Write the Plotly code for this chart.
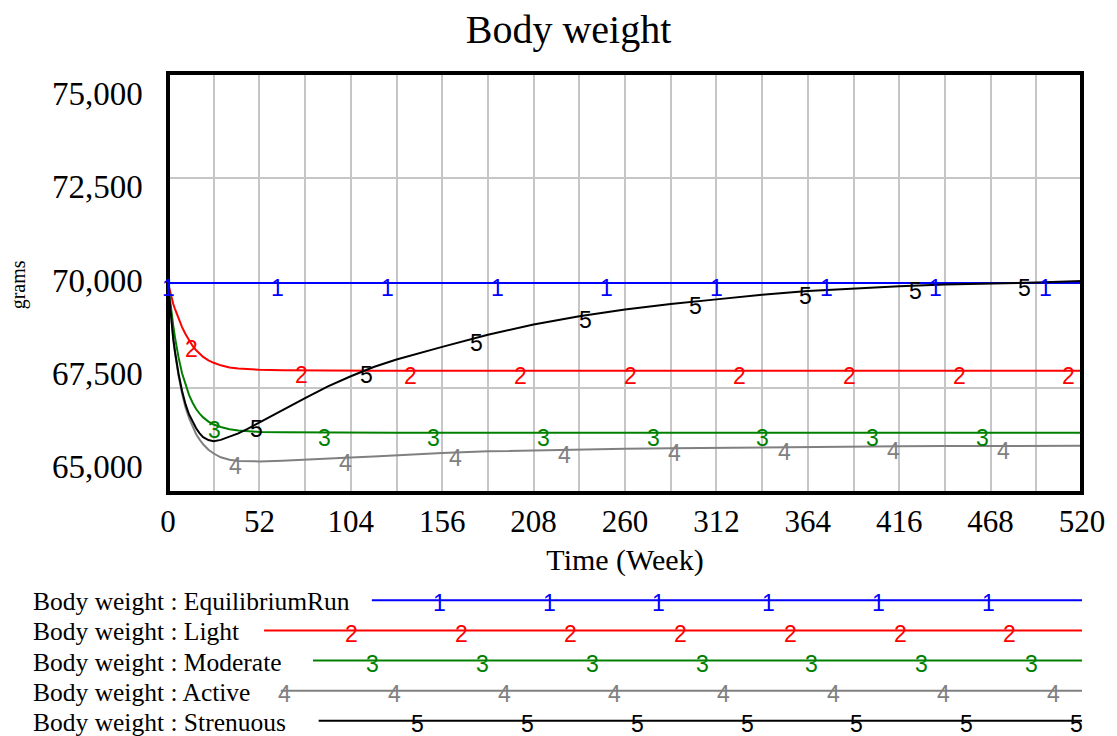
import numpy as np
import plotly.graph_objects as go

# ---- data: body weight (grams) by week for each activity scenario ----
weeks = [0, 1, 2, 3, 4, 5, 6, 8, 10, 12, 14, 16, 18, 20, 23, 26, 30, 35, 40, 45, 52,
         65, 78, 91, 104, 117, 130, 156, 182, 208, 234, 260, 286, 312, 338, 364,
         390, 416, 442, 468, 494, 520]

equilibrium_run = [70000, 70000, 70000, 70000, 70000, 70000, 70000, 70000, 70000, 70000,
                   70000, 70000, 70000, 70000, 70000, 70000, 70000, 70000, 70000, 70000,
                   70000, 70000, 70000, 70000, 70000, 70000, 70000, 70000, 70000, 70000,
                   70000, 70000, 70000, 70000, 70000, 70000, 70000, 70000, 70000, 70000,
                   70000, 70000]

light = [70000, 69820, 69640, 69500, 69380, 69260, 69150, 68950, 68780, 68630,
         68500, 68400, 68310, 68240, 68160, 68100, 68040, 67990, 67965, 67950,
         67935, 67925, 67918, 67915, 67913, 67912, 67912, 67912, 67912, 67912,
         67912, 67912, 67912, 67912, 67912, 67912, 67912, 67912, 67912, 67912,
         67912, 67912]

moderate = [70000, 69620, 69280, 68980, 68700, 68450, 68230, 67850, 67560, 67330,
            67150, 67000, 66890, 66800, 66700, 66630, 66570, 66520, 66490, 66470,
            66455, 66445, 66440, 66438, 66437, 66436, 66436, 66436, 66436, 66436,
            66436, 66436, 66436, 66436, 66436, 66436, 66436, 66436, 66436, 66436,
            66436, 66436]

active = [70000, 69520, 69000, 68650, 68330, 68050, 67790, 67370, 67030, 66780,
          66570, 66400, 66270, 66160, 66030, 65940, 65850, 65790, 65760, 65750,
          65752, 65770, 65790, 65815, 65845, 65872, 65900, 65952, 65992, 66015,
          66035, 66052, 66064, 66076, 66087, 66097, 66105, 66112, 66117, 66121,
          66124, 66126]

strenuous = [70000, 69520, 69010, 68670, 68360, 68090, 67840, 67430, 67110, 66870,
             66690, 66540, 66420, 66330, 66260, 66235, 66265, 66335, 66420, 66520,
             66680, 66980, 67260, 67540, 67780, 68000, 68180, 68480, 68770, 69010,
             69210, 69370, 69500, 69610, 69720, 69810, 69870, 69925, 69962, 69983,
             70010, 70045]

series_names = ["EquilibriumRun", "Light", "Moderate", "Active", "Strenuous"]
series_values = [equilibrium_run, light, moderate, active, strenuous]
series_colors = ["#0000ff", "#ff0000", "#008000", "#808080", "#000000"]

x_grid_ticks = list(range(0, 521, 26))
x_tick_labels = [str(v) if v % 52 == 0 else "" for v in x_grid_ticks]
y_label_ticks = [65000, 67500, 70000, 72500, 75000]
y_grid_ticks = [67500, 70000, 72500]

# ---- page geometry (pixels) ----
W, H = 1117, 736
L, R, T, B = 168, 1084, 73, 493

def paper_x(px):
    return (px - L) / (R - L)

def paper_y(py):
    return (B - py) / (B - T)

# value labels on the left run on their own evenly spread scale
LABEL_TOP_PX, LABEL_BOTTOM_PX = 94.2, 467.0
def label_py(v):
    lo, hi = min(y_label_ticks), max(y_label_ticks)
    return LABEL_TOP_PX + (hi - v) / (hi - lo) * (LABEL_BOTTOM_PX - LABEL_TOP_PX)

SERIF = "Liberation Serif, Times New Roman, serif"
SANS = "Liberation Sans, Arial, sans-serif"
GRID = "#c6c6c6"

fig = go.Figure()

for name, vals, color in zip(series_names, series_values, series_colors):
    fig.add_trace(go.Scatter(x=weeks, y=vals, mode="lines", name=name,
                             line=dict(color=color, width=2),
                             showlegend=False, hoverinfo="x+y+name"))

annotations = []
shapes = []

# numbered markers along each curve
marker_step = 62.4
marker_start = [0.0, 13.3, 26.4, 38.5, 50.6]
for i, (vals, color) in enumerate(zip(series_values, series_colors)):
    for t in np.arange(marker_start[i], 520.01, marker_step):
        annotations.append(dict(x=float(t), y=float(np.interp(t, weeks, vals)),
                                xref="x", yref="y", text=str(i + 1), showarrow=False,
                                yshift=-5, font=dict(family=SANS, size=23, color=color)))

# series key below the chart
row_y = [600.3, 630.5, 660.6, 690.7, 720.8]
line_x0 = [372.3, 264.3, 313.3, 281.0, 319.0]
digit_x0 = [440.0, 351.7, 373.3, 285.0, 418.3]
digit_step = 110.0
for i, (name, color) in enumerate(zip(series_names, series_colors)):
    annotations.append(dict(x=paper_x(31), y=paper_y(row_y[i] + 1.4), xref="paper", yref="paper",
                            xanchor="left", yanchor="middle", showarrow=False,
                            text="Body weight : " + name,
                            font=dict(family=SERIF, size=25.5, color="#000000")))
    shapes.append(dict(type="line", xref="paper", yref="paper",
                       x0=paper_x(line_x0[i]), x1=paper_x(R), y0=paper_y(row_y[i]), y1=paper_y(row_y[i]),
                       line=dict(color=color, width=2)))
    px = digit_x0[i]
    while px <= R + 1:
        annotations.append(dict(x=paper_x(px), y=paper_y(row_y[i] + 3), xref="paper", yref="paper",
                                xanchor="center", yanchor="middle", showarrow=False, text=str(i + 1),
                                font=dict(family=SANS, size=23, color=color)))
        px += digit_step

# y value labels
for v in y_label_ticks:
    annotations.append(dict(x=paper_x(145), y=paper_y(label_py(v)), xref="paper", yref="paper",
                            xanchor="right", yanchor="middle", showarrow=False, text=f"{v:,}",
                            font=dict(family=SERIF, size=33, color="#000000")))

# y axis title
annotations.append(dict(x=paper_x(18), y=paper_y(285), xref="paper", yref="paper",
                        text="grams", textangle=-90, showarrow=False,
                        xanchor="center", yanchor="middle",
                        font=dict(family=SERIF, size=20, color="#000000")))

# plot frame
shapes.append(dict(type="rect", xref="paper", yref="paper", x0=0, x1=1, y0=0, y1=1,
                   line=dict(color="#000000", width=4), layer="above"))

fig.update_layout(
    width=W, height=H,
    margin=dict(l=L, r=W - R, t=T, b=H - B, pad=0),
    paper_bgcolor="#ffffff", plot_bgcolor="#ffffff",
    title=dict(text="Body weight", x=568.5 / W, xanchor="center", xref="container",
               y=1 - 29 / H, yanchor="middle", yref="container",
               font=dict(family=SERIF, size=40, color="#000000")),
    xaxis=dict(range=[0, 520], tickvals=x_grid_ticks, ticktext=x_tick_labels,
               showgrid=True, gridcolor=GRID, gridwidth=2, zeroline=False,
               showline=False, ticks="", ticklabelstandoff=7,
               tickfont=dict(family=SERIF, size=31, color="#000000"),
               title=dict(text="Time (Week)", standoff=10,
                          font=dict(family=SERIF, size=30, color="#000000"))),
    yaxis=dict(range=[65000, 75000], tickvals=y_grid_ticks, showticklabels=False,
               showgrid=True, gridcolor=GRID, gridwidth=2, zeroline=False, ticks=""),
    annotations=annotations,
    shapes=shapes,
)

fig.write_html("out.html")
